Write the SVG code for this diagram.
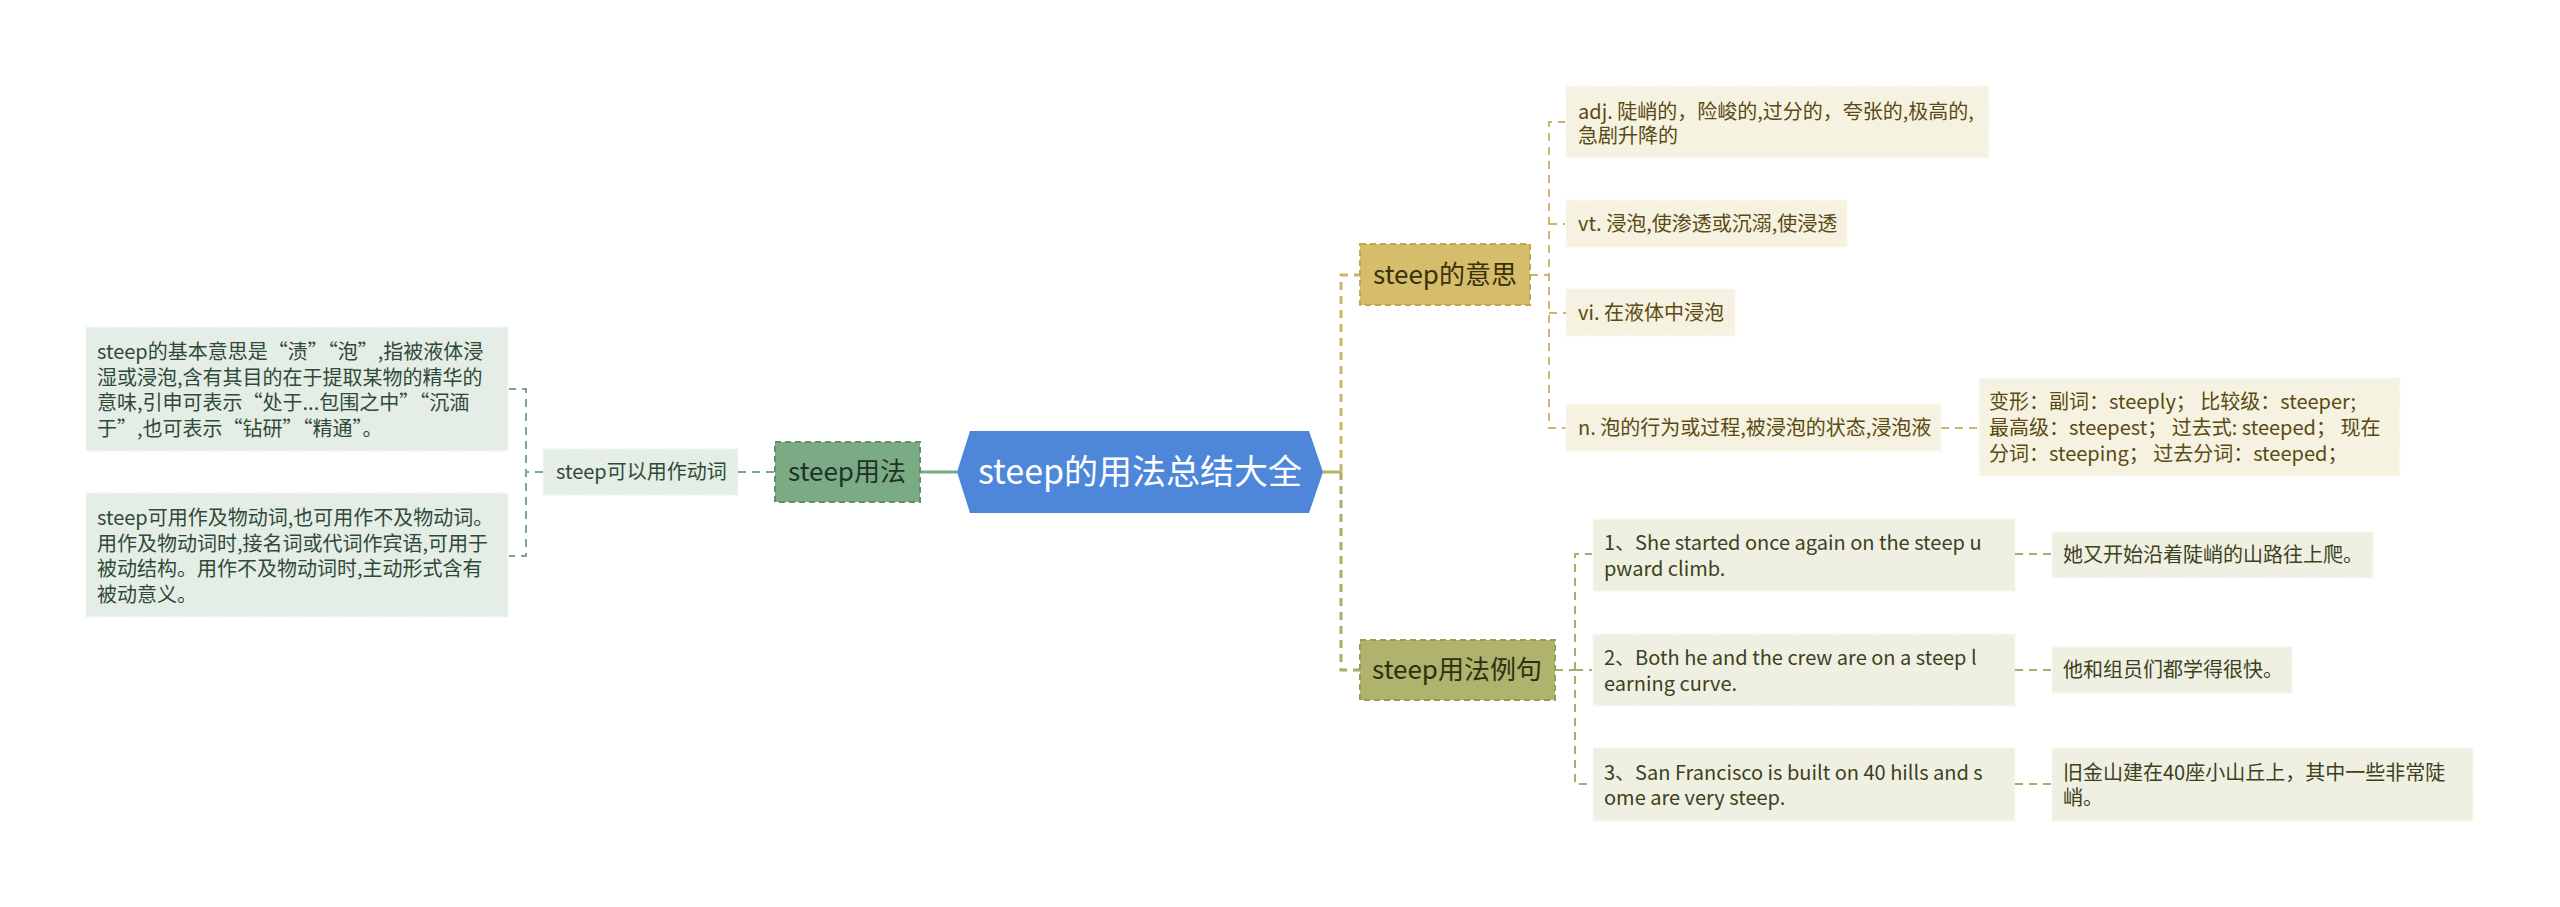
<svg xmlns="http://www.w3.org/2000/svg" width="2560" height="907" viewBox="0 0 2560 907">
<style>
text{font-family:"Noto Sans CJK SC","Noto Sans",sans-serif;}
.t20{font-size:20px;}
.t24{font-size:26px;}
.lg{fill:#2f4a37;}
.yb{fill:#5a4a12;}
.ob{fill:#3b4220;}
.leafG{fill:#e4eee7;stroke:#f4f8f5;stroke-width:2;stroke-dasharray:6 4;}
.leafY{fill:#f6f2e1;stroke:#fbf9f0;stroke-width:2;stroke-dasharray:6 4;}
.leafO{fill:#f0f0e2;stroke:#f8f8f0;stroke-width:2;stroke-dasharray:6 4;}
.cg{fill:none;stroke:#7aab85;stroke-width:2;stroke-dasharray:8 6;}
.cy{fill:none;stroke:#c9b56c;stroke-width:2;stroke-dasharray:8 6;}
.co{fill:none;stroke:#a9ac6b;stroke-width:2;stroke-dasharray:8 6;}
</style>
<rect width="2560" height="907" fill="#ffffff"/>
<g id="connectors">
<path d="M920 472 H957" fill="none" stroke="#7aab85" stroke-width="3"/>
<path class="cg" d="M738 472 H775"/>
<path class="cg" d="M543 472 H526"/>
<path class="cg" d="M508 389 H526 V556 H508"/>
<path d="M1323 472 H1341" fill="none" stroke="#b5b06a" stroke-width="3"/>
<path class="cy" style="stroke-width:3" d="M1341 472 V275 H1360"/>
<path class="co" style="stroke-width:3" d="M1341 472 V670 H1360"/>
<path class="cy" d="M1530 275 H1549"/>
<path class="cy" d="M1566 122 H1549 V428 H1566"/>
<path class="cy" d="M1549 224 H1566"/>
<path class="cy" d="M1549 313 H1566"/>
<path class="cy" d="M1941 428 H1979"/>
<path class="co" d="M1555 670 H1575"/>
<path class="co" d="M1593 554 H1575 V784 H1593"/>
<path class="co" d="M1575 670 H1593"/>
<path class="co" d="M2015 554 H2052"/>
<path class="co" d="M2015 670 H2052"/>
<path class="co" d="M2015 784 H2052"/>
</g>
<g id="root">
<polygon points="957,472 970,431 1309,431 1323,472 1309,513 970,513" fill="#4e87da"/>
<text x="1140" y="484" font-size="34" fill="#ffffff" text-anchor="middle">steep的用法总结大全</text>
</g>
<g id="usage">
<rect x="775" y="442" width="145" height="60" fill="#7aab85" stroke="#5f9269" stroke-width="2" stroke-dasharray="6 4"/>
<text class="t24" x="847" y="481" fill="#1f3325" text-anchor="middle">steep用法</text>
</g>
<g id="usage-verb">
<rect class="leafG" x="543" y="449" width="195" height="46"/>
<text class="t20 lg" x="556" y="479">steep可以用作动词</text>
</g>
<g id="usage-leaf1">
<rect class="leafG" x="86" y="327" width="422" height="124"/>
<text class="t20 lg" x="97" y="359">steep的基本意思是“渍”“泡”,指被液体浸</text>
<text class="t20 lg" x="97" y="384.5">湿或浸泡,含有其目的在于提取某物的精华的</text>
<text class="t20 lg" x="97" y="410">意味,引申可表示“处于...包围之中”“沉湎</text>
<text class="t20 lg" x="97" y="435.5">于”,也可表示“钻研”“精通”。</text>
</g>
<g id="usage-leaf2">
<rect class="leafG" x="86" y="493" width="422" height="124"/>
<text class="t20 lg" x="97" y="525">steep可用作及物动词,也可用作不及物动词。</text>
<text class="t20 lg" x="97" y="550.5">用作及物动词时,接名词或代词作宾语,可用于</text>
<text class="t20 lg" x="97" y="576">被动结构。用作不及物动词时,主动形式含有</text>
<text class="t20 lg" x="97" y="601.5">被动意义。</text>
</g>
<g id="meaning">
<rect x="1360" y="244" width="170" height="61" fill="#d5bd6b" stroke="#c1a650" stroke-width="2" stroke-dasharray="6 4"/>
<text class="t24" x="1445" y="284" fill="#3a300a" text-anchor="middle">steep的意思</text>
</g>
<g id="meaning-adj">
<rect class="leafY" x="1566" y="86" width="423" height="72"/>
<text class="t20 yb" x="1578" y="119">adj. 陡峭的，险峻的,过分的，夸张的,极高的,</text>
<text class="t20 yb" x="1578" y="143">急剧升降的</text>
</g>
<g id="meaning-vt">
<rect class="leafY" x="1566" y="200" width="281" height="47"/>
<text class="t20 yb" x="1578" y="231">vt. 浸泡,使渗透或沉溺,使浸透</text>
</g>
<g id="meaning-vi">
<rect class="leafY" x="1566" y="289" width="169" height="47"/>
<text class="t20 yb" x="1578" y="320">vi. 在液体中浸泡</text>
</g>
<g id="meaning-n">
<rect class="leafY" x="1566" y="404" width="375" height="47"/>
<text class="t20 yb" x="1578" y="435">n. 泡的行为或过程,被浸泡的状态,浸泡液</text>
</g>
<g id="meaning-forms">
<rect class="leafY" x="1979" y="378" width="421" height="98"/>
<text class="t20 yb" x="1989" y="409">变形：副词：steeply； 比较级：steeper;</text>
<text class="t20 yb" x="1989" y="435">最高级：steepest； 过去式: steeped； 现在</text>
<text class="t20 yb" x="1989" y="461">分词：steeping； 过去分词：steeped；</text>
</g>
<g id="examples">
<rect x="1360" y="640" width="195" height="60" fill="#b0b36d" stroke="#979a54" stroke-width="2" stroke-dasharray="6 4"/>
<text class="t24" x="1457" y="679" fill="#2c3110" text-anchor="middle">steep用法例句</text>
</g>
<g id="example-1">
<rect class="leafO" x="1593" y="519" width="422" height="72"/>
<text class="t20 ob" x="1604" y="550">1、She started once again on the steep u</text>
<text class="t20 ob" x="1604" y="576">pward climb.</text>
</g>
<g id="example-1-cn">
<rect class="leafO" x="2052" y="532" width="321" height="46"/>
<text class="t20 ob" x="2063" y="562">她又开始沿着陡峭的山路往上爬。</text>
</g>
<g id="example-2">
<rect class="leafO" x="1593" y="634" width="422" height="72"/>
<text class="t20 ob" x="1604" y="665">2、Both he and the crew are on a steep l</text>
<text class="t20 ob" x="1604" y="691">earning curve.</text>
</g>
<g id="example-2-cn">
<rect class="leafO" x="2052" y="647" width="240" height="46"/>
<text class="t20 ob" x="2063" y="677">他和组员们都学得很快。</text>
</g>
<g id="example-3">
<rect class="leafO" x="1593" y="748" width="422" height="73"/>
<text class="t20 ob" x="1604" y="780">3、San Francisco is built on 40 hills and s</text>
<text class="t20 ob" x="1604" y="805">ome are very steep.</text>
</g>
<g id="example-3-cn">
<rect class="leafO" x="2052" y="748" width="421" height="73"/>
<text class="t20 ob" x="2063" y="780">旧金山建在40座小山丘上，其中一些非常陡</text>
<text class="t20 ob" x="2063" y="805">峭。</text>
</g>
</svg>
